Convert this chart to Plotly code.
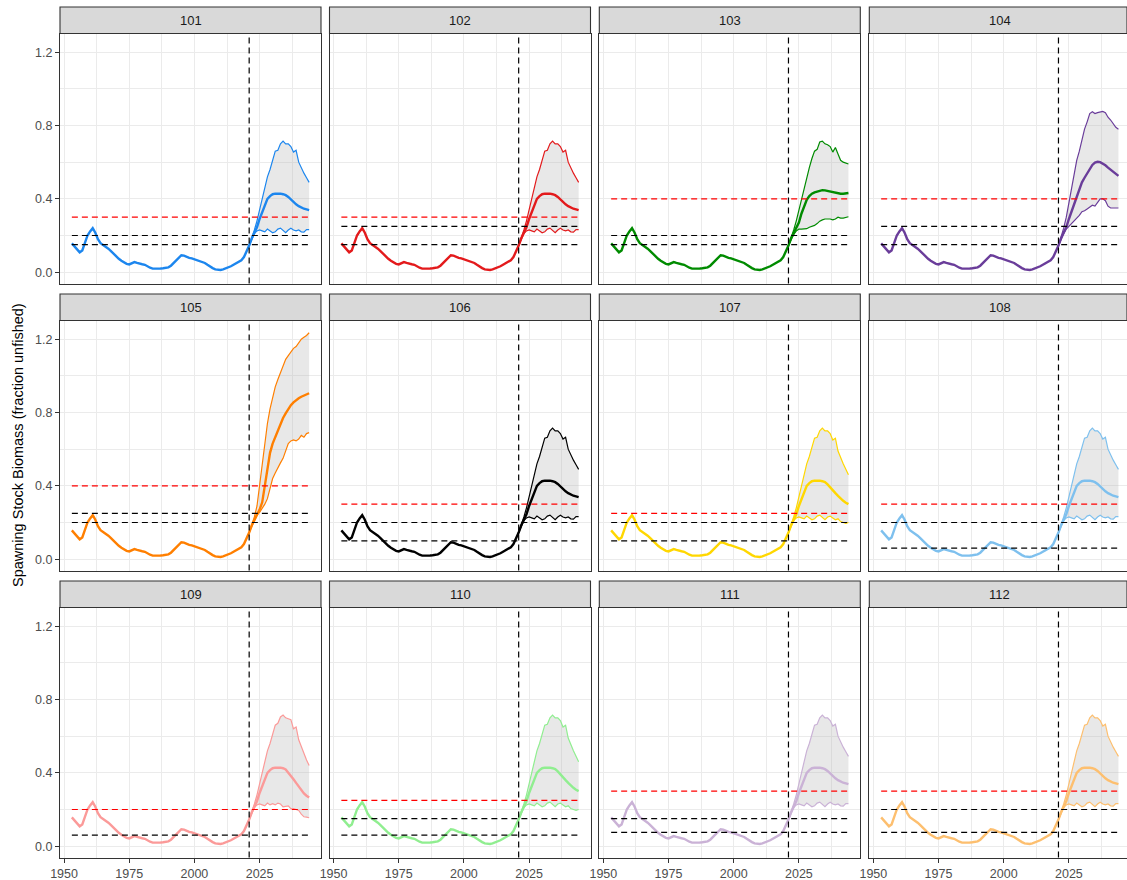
import plotly.graph_objects as go

# ---------------- data ----------------
panel_names = ["101", "102", "103", "104", "105", "106",
               "107", "108", "109", "110", "111", "112"]
panel_colors = ["#1C86EE", "#E31A1C", "#008B00", "#6A3D9A", "#FF7F00", "#000000",
                "#FFD700", "#7EC0EE", "#FB9A99", "#90EE90", "#CAB2D6", "#FDBF6F"]

target_ref = [0.30, 0.30, 0.40, 0.40, 0.40, 0.30, 0.25, 0.30, 0.20, 0.25, 0.30, 0.30]
limit_upper_ref = [0.20, 0.25, 0.20, 0.25, 0.25, 0.20, 0.20, 0.20, None, 0.15, 0.15, 0.20]
limit_lower_ref = [0.15, 0.15, 0.15, 0.15, 0.20, 0.10, 0.10, 0.06, 0.06, 0.06, 0.075, 0.075]

projection_start = 2021

hist_years = list(range(1953, 2021))
hist_median = [0.157, 0.140, 0.122, 0.108, 0.118, 0.160, 0.200, 0.222,
               0.240, 0.215, 0.180, 0.158, 0.148, 0.140, 0.128, 0.115, 0.100, 0.085,
               0.073, 0.062, 0.052, 0.045, 0.042, 0.048, 0.055, 0.050, 0.045, 0.043,
               0.040, 0.031, 0.024, 0.019, 0.018, 0.019, 0.020, 0.021, 0.022, 0.026,
               0.035, 0.048, 0.062, 0.078, 0.092, 0.090, 0.083, 0.078, 0.075, 0.070,
               0.065, 0.062, 0.058, 0.050, 0.040, 0.030, 0.022, 0.015, 0.012, 0.012,
               0.015, 0.020, 0.026, 0.032, 0.040, 0.048, 0.055, 0.065, 0.082, 0.110]

proj_years = list(range(2021, 2045))

# scenario A (101, 102, 106, 108, 111, 112)
medA = [0.145, 0.185, 0.215, 0.245, 0.290, 0.330, 0.370, 0.400, 0.415, 0.425, 0.428, 0.430,
        0.428, 0.425, 0.420, 0.410, 0.395, 0.385, 0.370, 0.360, 0.352, 0.346, 0.342, 0.338]
upA = [0.145, 0.185, 0.230, 0.280, 0.340, 0.400, 0.470, 0.520, 0.560, 0.610, 0.660, 0.665,
       0.700, 0.715, 0.700, 0.700, 0.685, 0.655, 0.665, 0.600, 0.565, 0.540, 0.515, 0.490]
loA = [0.145, 0.180, 0.210, 0.225, 0.230, 0.225, 0.220, 0.235, 0.225, 0.215, 0.220, 0.235,
       0.240, 0.225, 0.215, 0.230, 0.240, 0.230, 0.225, 0.230, 0.220, 0.218, 0.232, 0.232]

# scenario B (107, 110)
medB = [0.145, 0.185, 0.215, 0.245, 0.290, 0.330, 0.370, 0.400, 0.415, 0.425, 0.428, 0.430,
        0.428, 0.425, 0.420, 0.408, 0.390, 0.375, 0.360, 0.345, 0.330, 0.318, 0.308, 0.300]
upB = [0.145, 0.185, 0.230, 0.280, 0.340, 0.400, 0.470, 0.520, 0.560, 0.610, 0.660, 0.665,
       0.700, 0.715, 0.700, 0.700, 0.685, 0.650, 0.660, 0.590, 0.550, 0.520, 0.490, 0.460]
loB = [0.145, 0.180, 0.210, 0.225, 0.230, 0.225, 0.220, 0.235, 0.225, 0.215, 0.220, 0.235,
       0.240, 0.225, 0.215, 0.230, 0.235, 0.225, 0.215, 0.220, 0.205, 0.200, 0.195, 0.200]

# scenario C (109)
medC = [0.145, 0.185, 0.215, 0.245, 0.290, 0.330, 0.370, 0.400, 0.415, 0.425, 0.428, 0.430,
        0.428, 0.425, 0.418, 0.400, 0.385, 0.365, 0.345, 0.325, 0.305, 0.288, 0.275, 0.265]
upC = [0.145, 0.185, 0.230, 0.280, 0.340, 0.400, 0.470, 0.520, 0.560, 0.610, 0.660, 0.670,
       0.705, 0.715, 0.700, 0.695, 0.690, 0.640, 0.650, 0.580, 0.540, 0.500, 0.470, 0.440]
loC = [0.145, 0.180, 0.210, 0.225, 0.230, 0.225, 0.220, 0.235, 0.225, 0.232, 0.225, 0.235,
       0.230, 0.214, 0.215, 0.220, 0.205, 0.205, 0.200, 0.195, 0.175, 0.160, 0.158, 0.155]

# panel 103
med103 = [0.145, 0.185, 0.215, 0.240, 0.270, 0.320, 0.360, 0.395, 0.415, 0.428, 0.435, 0.440,
          0.445, 0.447, 0.446, 0.443, 0.440, 0.436, 0.432, 0.430, 0.428, 0.428, 0.430, 0.432]
up103 = [0.145, 0.185, 0.230, 0.280, 0.340, 0.400, 0.460, 0.520, 0.570, 0.620, 0.660, 0.670,
         0.710, 0.715, 0.700, 0.695, 0.685, 0.655, 0.680, 0.645, 0.610, 0.600, 0.595, 0.590]
lo103 = [0.145, 0.180, 0.205, 0.225, 0.235, 0.235, 0.235, 0.237, 0.245, 0.250, 0.255, 0.265,
         0.278, 0.285, 0.290, 0.290, 0.290, 0.285, 0.290, 0.300, 0.295, 0.295, 0.300, 0.302]

# panel 104
med104 = [0.145, 0.185, 0.215, 0.245, 0.290, 0.330, 0.365, 0.410, 0.450, 0.490, 0.515, 0.540,
          0.565, 0.585, 0.598, 0.602, 0.600, 0.593, 0.583, 0.570, 0.558, 0.545, 0.535, 0.525]
up104 = [0.145, 0.190, 0.240, 0.300, 0.380, 0.470, 0.550, 0.610, 0.660, 0.720, 0.780, 0.820,
         0.865, 0.875, 0.865, 0.870, 0.875, 0.877, 0.870, 0.845, 0.830, 0.810, 0.790, 0.780]
lo104 = [0.145, 0.180, 0.210, 0.235, 0.250, 0.265, 0.280, 0.290, 0.310, 0.330, 0.335, 0.345,
         0.355, 0.365, 0.360, 0.380, 0.400, 0.400, 0.390, 0.360, 0.350, 0.350, 0.352, 0.350]

# panel 105
med105 = [0.145, 0.185, 0.215, 0.245, 0.270, 0.310, 0.400, 0.510, 0.580, 0.630, 0.665, 0.705,
          0.740, 0.770, 0.795, 0.820, 0.840, 0.855, 0.868, 0.878, 0.886, 0.893, 0.900, 0.905]
up105 = [0.145, 0.190, 0.230, 0.290, 0.400, 0.520, 0.640, 0.740, 0.820, 0.890, 0.940, 0.980,
         1.020, 1.060, 1.090, 1.110, 1.130, 1.150, 1.160, 1.180, 1.200, 1.210, 1.220, 1.235]
lo105 = [0.145, 0.180, 0.215, 0.240, 0.255, 0.275, 0.300, 0.330, 0.390, 0.440, 0.470, 0.500,
         0.525, 0.550, 0.590, 0.630, 0.645, 0.650, 0.645, 0.655, 0.675, 0.665, 0.685, 0.690]

proj_median = [medA, medA, med103, med104, med105, medA, medB, medA, medC, medB, medA, medA]
proj_upper = [upA, upA, up103, up104, up105, upA, upB, upA, upC, upB, upA, upA]
proj_lower = [loA, loA, lo103, lo104, lo105, loA, loB, loA, loC, loB, loA, loA]

x_tick_vals = [1950, 1975, 2000, 2025]
y_tick_vals = [0.0, 0.4, 0.8, 1.2]
y_title = "Spawning Stock Biomass (fraction unfished)"

# ---------------- layout geometry (pixels) ----------------
W, H = 1127, 880
col_left = [60, 329.5, 599.3, 869.3]
panel_w = 261
row_top = [33.5, 320.5, 607.5]
panel_h = 250
strip_h = 26.5
x_range_full = [1948.45, 2048.55]
y_range = [-0.062, 1.302]

FONT = "Liberation Sans, Arial, sans-serif"
DASH = "6px,4px"

fig = go.Figure()
layout = dict(
    width=W, height=H,
    margin=dict(l=0, r=0, t=0, b=0, autoexpand=False),
    paper_bgcolor="white", plot_bgcolor="white",
    showlegend=False,
    font=dict(family=FONT),
)
shapes = []
annotations = []

for i, name in enumerate(panel_names):
    r, c = divmod(i, 4)
    ax = "" if i == 0 else str(i + 1)
    xref, yref = "x" + ax, "y" + ax
    left = col_left[c]
    right = min(left + panel_w, W)
    frac = (right - left) / panel_w
    xr = [x_range_full[0], x_range_full[0] + (x_range_full[1] - x_range_full[0]) * frac]
    top = row_top[r]
    bottom = top + panel_h

    layout["xaxis" + ax] = dict(
        domain=[left / W, right / W], anchor=yref, range=xr, automargin=False,
        tickvals=x_tick_vals, showgrid=True, gridcolor="#EBEBEB", gridwidth=1.1,
        minor=dict(tickvals=[1962.5, 1987.5, 2012.5, 2037.5], showgrid=True,
                   gridcolor="#EBEBEB", gridwidth=0.55, ticks=""),
        zeroline=False, showline=True, mirror=True, linecolor="#333333", linewidth=1.1,
        ticks="outside" if r == 2 else "", ticklen=4, tickcolor="#333333", tickwidth=1.1,
        showticklabels=(r == 2),
        tickfont=dict(size=12.5, color="#4D4D4D", family=FONT),
    )
    layout["yaxis" + ax] = dict(
        domain=[1 - bottom / H, 1 - top / H], anchor=xref, range=y_range, automargin=False,
        tickvals=y_tick_vals, tickformat=".1f", showgrid=True, gridcolor="#EBEBEB", gridwidth=1.1,
        minor=dict(tickvals=[0.2, 0.6, 1.0], showgrid=True, gridcolor="#EBEBEB",
                   gridwidth=0.55, ticks=""),
        zeroline=False, showline=True, mirror=True, linecolor="#333333", linewidth=1.1,
        ticks="outside" if c == 0 else "", ticklen=4, tickcolor="#333333", tickwidth=1.1,
        showticklabels=(c == 0),
        tickfont=dict(size=12.5, color="#4D4D4D", family=FONT),
    )

    col = panel_colors[i]
    # ribbon
    fig.add_trace(go.Scatter(x=proj_years, y=proj_lower[i], xaxis=xref, yaxis=yref,
                             mode="lines", line=dict(width=0, color=col), hoverinfo="skip"))
    fig.add_trace(go.Scatter(x=proj_years, y=proj_upper[i], xaxis=xref, yaxis=yref,
                             mode="lines", line=dict(width=0, color=col), fill="tonexty",
                             fillcolor="rgba(179,179,179,0.30)", hoverinfo="skip"))
    # bounds
    fig.add_trace(go.Scatter(x=proj_years, y=proj_lower[i], xaxis=xref, yaxis=yref,
                             mode="lines", line=dict(width=1.2, color=col)))
    fig.add_trace(go.Scatter(x=proj_years, y=proj_upper[i], xaxis=xref, yaxis=yref,
                             mode="lines", line=dict(width=1.2, color=col)))
    # median
    fig.add_trace(go.Scatter(x=hist_years + proj_years, y=hist_median + proj_median[i],
                             xaxis=xref, yaxis=yref, mode="lines",
                             line=dict(width=2.4, color=col)))
    # reference lines across the data span
    span = [hist_years[0], proj_years[-1]]
    for val, lc in ((limit_lower_ref[i], "black"), (limit_upper_ref[i], "black"),
                    (target_ref[i], "#FF0000")):
        if val is None:
            continue
        fig.add_trace(go.Scatter(x=span, y=[val, val], xaxis=xref, yaxis=yref, mode="lines",
                                 line=dict(width=1.2, color=lc, dash=DASH)))
    # vertical line at projection start
    shapes.append(dict(type="line", xref=xref, yref=yref + " domain",
                       x0=projection_start, x1=projection_start, y0=0, y1=1,
                       line=dict(color="black", width=1.2, dash=DASH)))
    # strip
    shapes.append(dict(type="rect", xref="paper", yref="paper",
                       x0=left / W, x1=right / W,
                       y0=1 - top / H, y1=1 - (top - strip_h) / H,
                       fillcolor="#D9D9D9", line=dict(color="#333333", width=1.1)))
    annotations.append(dict(text=name, xref="paper", yref="paper",
                            x=(left + panel_w / 2) / W, y=1 - (top - strip_h / 2) / H,
                            showarrow=False, xanchor="center", yanchor="middle",
                            font=dict(size=13, color="#1A1A1A", family=FONT)))

annotations.append(dict(text=y_title, xref="paper", yref="paper",
                        x=18 / W, y=1 - 445 / H, textangle=-90, showarrow=False,
                        xanchor="center", yanchor="middle",
                        font=dict(size=14.5, color="black", family=FONT)))

layout["shapes"] = shapes
layout["annotations"] = annotations
fig.update_layout(**layout)
fig.write_html("out.html")
